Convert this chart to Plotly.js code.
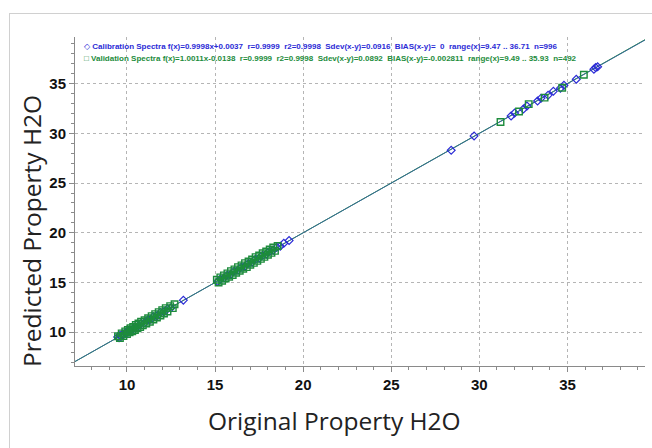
<!DOCTYPE html>
<html><head><meta charset="utf-8">
<script src="https://cdn.plot.ly/plotly-3.0.1.min.js"></script>
<style>
html,body{margin:0;padding:0;background:#fff;}
#frame{position:absolute;left:9px;top:13px;width:700px;height:500px;border:1px solid #d0d0d0;}
#chart{position:absolute;left:0;top:0;width:652px;height:448px;}
</style></head>
<body><div id="frame"></div><div id="chart"></div>
<script>
// Calibration spectra (blue open diamonds)
const calX = [9.47,9.55,9.6,9.68,9.75,9.82,9.9,10.0,10.05,10.15,10.3,10.45,10.6,10.8,11.0,11.2,11.35,11.5,11.7,11.9,12.1,12.3,12.5,13.2,
  15.15,15.3,15.5,15.7,15.9,16.1,16.3,16.5,16.7,16.9,17.1,17.3,17.5,17.7,17.9,18.1,18.3,18.5,18.7,18.9,19.2,
  28.4,29.7,31.8,32.0,32.5,32.7,33.3,33.5,33.9,34.2,34.6,34.8,35.5,36.5,36.6,36.71];
const calY = [9.52,9.45,9.68,9.6,9.82,9.78,9.95,10.08,9.98,10.2,10.25,10.52,10.55,10.88,10.95,11.28,11.3,11.55,11.62,11.98,12.05,12.36,12.45,13.22,
  15.1,15.35,15.45,15.75,15.85,16.15,16.25,16.55,16.66,16.95,17.05,17.36,17.45,17.75,17.85,18.15,18.25,18.55,18.66,18.95,19.22,
  28.3,29.75,31.75,32.05,32.45,32.75,33.25,33.55,33.85,34.25,34.55,34.85,35.45,36.45,36.62,36.7];
// Validation spectra (green open squares)
const valX = [9.49,9.6,9.7,9.8,9.9,10.0,10.05,10.15,10.2,10.3,10.35,10.45,10.5,10.6,10.65,10.75,10.8,10.9,11.0,11.1,11.2,11.3,11.4,11.5,11.6,11.7,11.8,11.9,12.0,12.1,12.2,12.3,12.45,12.6,12.7,
  15.1,15.2,15.3,15.4,15.5,15.6,15.7,15.8,15.9,16.0,16.1,16.2,16.3,16.4,16.5,16.6,16.7,16.8,16.9,17.0,17.1,17.2,17.3,17.4,17.5,17.6,17.7,17.8,17.9,18.0,18.1,18.2,18.3,18.4,18.55,
  31.2,32.25,32.8,33.7,34.7,35.93];
const valY = [9.6,9.42,9.88,9.62,10.08,9.82,10.22,9.98,10.4,10.1,10.52,10.22,10.72,10.4,10.88,10.52,11.05,10.7,11.2,10.88,11.4,11.05,11.62,11.28,11.82,11.48,12.02,11.68,12.22,11.88,12.42,12.08,12.62,12.42,12.82,
  15.28,15.0,15.52,15.18,15.72,15.4,15.92,15.58,16.15,15.76,16.32,15.98,16.55,16.18,16.72,16.38,16.95,16.55,17.12,16.78,17.32,16.98,17.55,17.18,17.72,17.38,17.95,17.58,18.12,17.8,18.32,17.98,18.52,18.18,18.68,
  31.15,32.2,32.95,33.6,34.6,35.9];
// Regression lines (endpoints)
const fitX = [7.0, 40.0];
const calFitY = [7.002, 39.996];
const valFitY = [6.994, 40.030];
// Tick labels
const tickVals = [10, 15, 20, 25, 30, 35];
const tickLabels = ['10', '15', '20', '25', '30', '35'];

const calText = '◇ <b>Calibration Spectra f(x)=0.9998x+0.0037  r=0.9999  r2=0.9998  Sdev(x-y)=0.0916  BIAS(x-y)=  0  range(x)=9.47 .. 36.71  n=996</b>';
const valText = '□ <b>Validation Spectra f(x)=1.0011x-0.0138  r=0.9999  r2=0.9998  Sdev(x-y)=0.0892  BIAS(x-y)=-0.002811  range(x)=9.49 .. 35.93  n=492</b>';
const xTitle = 'Original Property H2O';
const yTitle = 'Predicted Property H2O';

const blue = '#2b2bd6', green = '#1d8c3c';
const traces = [
  {x: fitX, y: valFitY, mode:'lines', line:{color:green, width:1}, hoverinfo:'skip'},
  {x: fitX, y: calFitY, mode:'lines', line:{color:'#3a6a9a', width:1}, hoverinfo:'skip'},
  {x: calX, y: calY, mode:'markers', marker:{symbol:'diamond-open', size:6, color:blue, line:{width:1.2}}},
  {x: valX, y: valY, mode:'markers', marker:{symbol:'square-open', size:6.5, color:green, line:{width:1.4}}}
];
const axBase = {
  showline:true, linecolor:'#8a8a8a', linewidth:1, mirror:false,
  ticks:'outside', ticklen:5, tickcolor:'#8a8a8a',
  tickmode:'array', tickvals:tickVals, ticktext:tickLabels.map(t => '<b>' + t + '</b>'),
  showgrid:true, gridcolor:'#b5b5b5', griddash:'dot', gridwidth:1, zeroline:false,
  tickfont:{family:'Liberation Sans, Arial, sans-serif', size:15, color:'#111'},
  minor:{dtick:1, tick0:0, ticks:'outside', ticklen:3, tickcolor:'#8a8a8a', showgrid:false}
};
const titleFont = {family:'Open Sans, Liberation Sans, sans-serif', size:24.5, color:'#222'};
const layout = {
  width:652, height:448, showlegend:false,
  paper_bgcolor:'rgba(0,0,0,0)', plot_bgcolor:'#fff',
  margin:{l:75, r:7, t:37, b:82},
  xaxis: Object.assign({}, axBase, {range:[7.05, 39.4]}),
  yaxis: Object.assign({}, axBase, {range:[6.6, 39.7]}),
  annotations:[
    {xref:'paper', yref:'paper', x:0.012, y:0.97, xanchor:'left', yanchor:'middle', showarrow:false, text:calText, font:{family:'Arial, Liberation Sans, sans-serif', size:8, color:blue}},
    {xref:'paper', yref:'paper', x:0.012, y:0.935, xanchor:'left', yanchor:'middle', showarrow:false, text:valText, font:{family:'Arial, Liberation Sans, sans-serif', size:8, color:green}},
    {xref:'paper', yref:'paper', x:(334-75)/570, y:-(420-366)/329, xanchor:'center', yanchor:'middle', showarrow:false, text:xTitle, font:titleFont},
    {xref:'paper', yref:'paper', x:-(75-31)/570, y:(366-231)/329, xanchor:'center', yanchor:'middle', showarrow:false, textangle:-90, text:yTitle, font:titleFont}
  ]
};
Plotly.newPlot('chart', traces, layout, {displayModeBar:false, staticPlot:true});
</script></body></html>
